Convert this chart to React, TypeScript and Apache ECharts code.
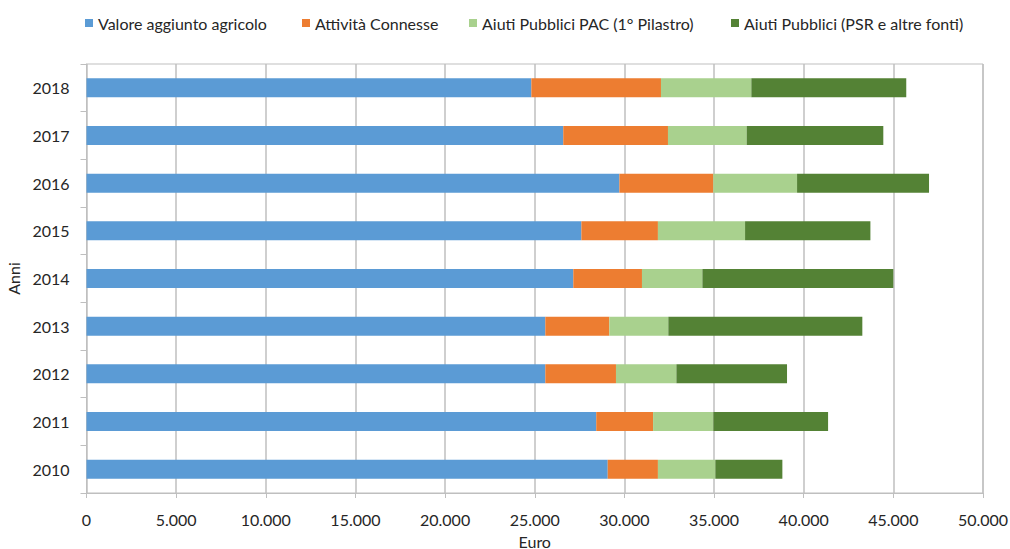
import React, { useEffect, useRef } from "react";
import * as echarts from "echarts";

const years = ["2010", "2011", "2012", "2013", "2014", "2015", "2016", "2017", "2018"];
const valoreAggiunto = [29070, 28430, 25590, 25590, 27150, 27600, 29720, 26590, 24810];
const attivitaConnesse = [2800, 3170, 3940, 3570, 3830, 4270, 5240, 5840, 7230];
const aiutiPac = [3200, 3360, 3370, 3290, 3370, 4860, 4670, 4390, 5040];
const aiutiPsr = [3740, 6400, 6170, 10820, 10650, 6990, 7360, 7620, 8640];

const seriesNames = [
  "Valore aggiunto agricolo",
  "Attività Connesse",
  "Aiuti Pubblici PAC (1° Pilastro)",
  "Aiuti Pubblici (PSR e altre fonti)",
];
const seriesColors = ["#5B9BD5", "#ED7D31", "#A9D18E", "#548235"];
const seriesData = [valoreAggiunto, attivitaConnesse, aiutiPac, aiutiPsr];
const legendLeft = [80, 297, 464, 726];

const FONT = "Lato, 'Open Sans', sans-serif";
const TEXT = "#262626";
const GRID = "#bfbfbf";
const FS = 16;

const fmtDots = (v: number) => String(v).replace(/\B(?=(\d{3})+(?!\d))/g, ".");

export default function App() {
  const ref = useRef<HTMLDivElement>(null);
  useEffect(() => {
    if (!ref.current) return;
    const chart = echarts.init(ref.current, undefined, { renderer: "svg" });
    chart.setOption({
      animation: false,
      backgroundColor: "#ffffff",
      textStyle: { fontFamily: FONT },
      legend: seriesNames.map((name, i) => ({
        data: [name],
        left: legendLeft[i],
        top: 10,
        itemWidth: 8,
        itemHeight: 8,
        itemGap: 0,
        icon: "rect",
        textStyle: { fontSize: FS, color: TEXT, fontFamily: FONT },
      })),
      grid: {
        left: 86.5,
        right: 27,
        top: 64,
        bottom: 56,
        containLabel: false,
        outerBoundsMode: "none",
        show: true,
        borderColor: GRID,
        borderWidth: 1,
      },
      xAxis: {
        type: "value",
        min: 0,
        max: 50000,
        interval: 5000,
        name: "Euro",
        nameLocation: "middle",
        nameGap: 40,
        nameTextStyle: { fontSize: FS, color: TEXT, fontFamily: FONT },
        axisLine: { show: true, lineStyle: { color: GRID } },
        axisTick: { show: true, length: 5, lineStyle: { color: GRID } },
        splitLine: { show: true, lineStyle: { color: GRID, width: 1.5 } },
        axisLabel: {
          fontSize: FS,
          color: TEXT,
          margin: 18,
          fontFamily: FONT,
          formatter: (v: number) => fmtDots(v),
        },
      },
      yAxis: {
        type: "category",
        data: years,
        name: "Anni",
        nameLocation: "middle",
        nameGap: 63,
        nameRotate: 90,
        nameTextStyle: { fontSize: FS, color: TEXT, fontFamily: FONT },
        axisLine: { show: true, lineStyle: { color: GRID } },
        axisTick: { show: true, length: 6, lineStyle: { color: GRID } },
        splitLine: { show: false },
        axisLabel: { fontSize: FS, color: TEXT, margin: 17, fontFamily: FONT },
      },
      series: seriesNames.map((name, i) => ({
        name,
        type: "bar",
        stack: "totale",
        data: seriesData[i],
        barCategoryGap: "60%",
        itemStyle: { color: seriesColors[i] },
      })),
    });
    return () => chart.dispose();
  }, []);
  return (
    <div
      ref={ref}
      style={{ position: "fixed", left: 0, top: 0, width: 1010, height: 549 }}
    />
  );
}
